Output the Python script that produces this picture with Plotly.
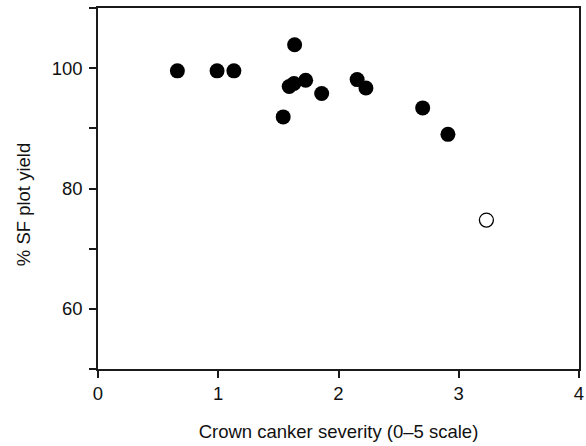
import plotly.graph_objects as go

# Data
severity_filled = [0.66, 0.99, 1.13, 1.635, 1.54, 1.59, 1.63, 1.727, 1.86, 2.155, 2.228, 2.70, 2.91]
yield_filled = [99.55, 99.55, 99.55, 103.9, 91.9, 96.95, 97.45, 98.0, 95.8, 98.1, 96.7, 93.4, 89.0]
severity_open = [3.23]
yield_open = [74.75]

y_tickvals = [50, 60, 70, 80, 90, 100, 110]
y_ticktext = ["", "60", "", "80", "", "100", ""]
x_tickvals = [0, 1, 2, 3, 4]
x_ticktext = ["0", "1", "2", "3", "4"]

FONT = "Liberation Sans, Arial, Helvetica, sans-serif"
FS = 18.5

fig = go.Figure()
fig.add_trace(go.Scatter(
    x=severity_filled, y=yield_filled, mode="markers",
    marker=dict(size=15, color="black", line=dict(width=0)),
    showlegend=False, cliponaxis=False))
fig.add_trace(go.Scatter(
    x=severity_open, y=yield_open, mode="markers",
    marker=dict(size=14, color="white", line=dict(width=1.3, color="black")),
    showlegend=False, cliponaxis=False))

axis_common = dict(
    showgrid=False, zeroline=False, showline=True, linecolor="#1a1a1a",
    linewidth=1.5, mirror=True, ticks="outside", ticklen=7, tickwidth=1.5,
    tickcolor="#1a1a1a", tickfont=dict(family=FONT, size=FS, color="#111"),
    automargin=False,
)

fig.update_xaxes(range=[0, 4], tickvals=x_tickvals, ticktext=x_ticktext,
                 title=dict(text="Crown canker severity (0–5 scale)",
                            font=dict(family=FONT, size=FS, color="#111"),
                            standoff=22),
                 **axis_common)
fig.update_yaxes(range=[50, 110], tickvals=y_tickvals, ticktext=y_ticktext,
                 ticklabelstandoff=3, **axis_common)

fig.add_annotation(text="% SF plot yield", xref="paper", yref="paper",
                   x=-0.155, y=0.455, xanchor="center", yanchor="middle",
                   textangle=-90, showarrow=False,
                   font=dict(family=FONT, size=FS, color="#111"))

fig.update_layout(
    width=586, height=446,
    margin=dict(l=98, r=7, t=8, b=77, autoexpand=False),
    paper_bgcolor="white", plot_bgcolor="white",
)

fig.write_html("out.html")
